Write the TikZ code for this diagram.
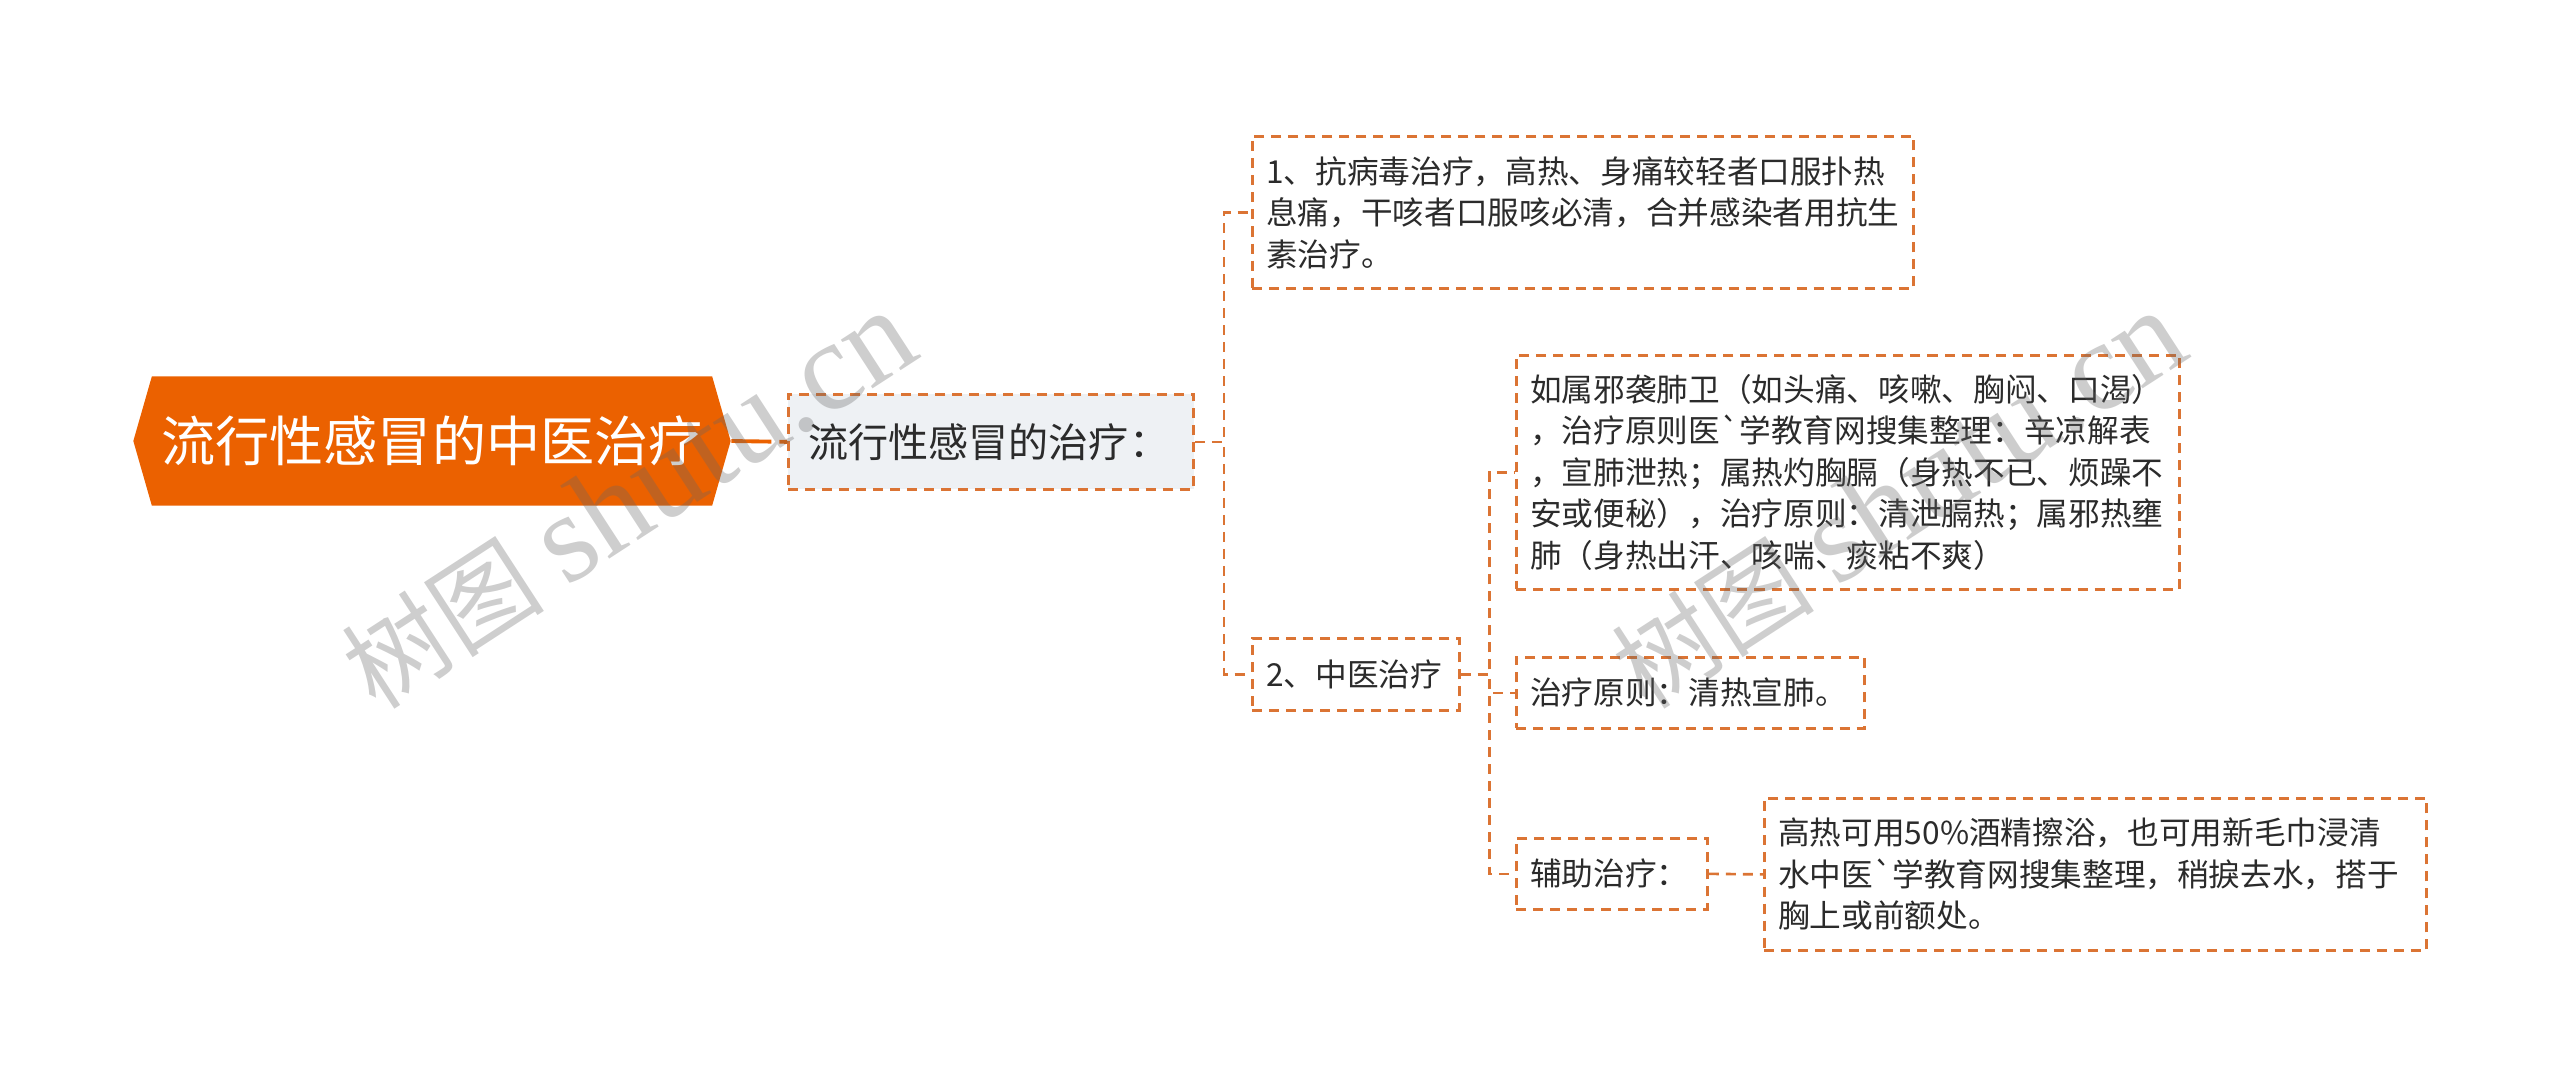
\documentclass[tikz,border=0pt]{standalone}
\usepackage{fontspec}
\setmainfont{Noto Sans CJK SC}
\newfontfamily\wmlatin{Liberation Serif}
\usepackage{xcolor}
\usetikzlibrary{positioning, shapes.symbols, calc}

\definecolor{rootorange}{HTML}{EB6100}
\definecolor{lineorange}{HTML}{DB7434}
\definecolor{boxgrey}{HTML}{EEF1F4}
\definecolor{textgrey}{HTML}{2B2B2B}

\begin{document}
\begin{tikzpicture}[x=0.01cm, y=-0.01cm,
            root/.style={signal, signal to=west and east, signal pointer angle=148, fill=rootorange, text=white, minimum width=5.97cm, minimum height=1.29cm, inner sep=0pt, font=\fontsize{15.4}{18}\selectfont},
            dashline/.style={draw=lineorange, line width=0.75pt, dash pattern=on 0.1cm off 0.07cm},
            topic/.style={dashline, fill=boxgrey, anchor=north west, align=left, inner xsep=0.2cm, text=textgrey, font=\fontsize{11.4}{14}\selectfont},
            leaf/.style={dashline, fill=white, anchor=north west, align=left, inner xsep=0.14cm, text=textgrey, font=\fontsize{9}{11.8}\selectfont},
            edge/.style={dashline},
            rootedge/.style={draw=rootorange, line width=1.1pt, dash pattern=on 0.4cm off 0.08cm},
            watermark/.style={rotate=33, text=black!60, text opacity=0.32, font=\fontsize{29}{29}\selectfont}
        ]

        \useasboundingbox (0,0) rectangle (2560,1084);

        % Knoten
        \node[root] (root) at (432,441) {流行性感冒的中医治疗};
        \node[topic, minimum width=4.05cm, minimum height=0.95cm, text width=3.65cm] (treat) at (787,393) {流行性感冒的治疗：};

        \node[leaf, minimum width=6.61cm, minimum height=1.52cm, text width=6.33cm] (drug) at (1251,135) {1、抗病毒治疗，高热、身痛较轻者口服扑热\\息痛，干咳者口服咳必清，合并感染者用抗生\\素治疗。};
        \node[leaf, minimum width=2.07cm, minimum height=0.72cm, text width=1.79cm] (tcm) at (1251,637) {2、中医治疗};

        \node[leaf, minimum width=6.63cm, minimum height=2.34cm, text width=6.35cm] (syndrome) at (1515,354) {如属邪袭肺卫（如头痛、咳嗽、胸闷、口渴）\\，治疗原则医\textasciigrave 学教育网搜集整理：辛凉解表\\，宣肺泄热；属热灼胸膈（身热不已、烦躁不\\安或便秘），治疗原则：清泄膈热；属邪热壅\\肺（身热出汗、咳喘、痰粘不爽）};
        \node[leaf, minimum width=3.48cm, minimum height=0.71cm, text width=3.2cm] (principle) at (1515,656) {治疗原则：清热宣肺。};
        \node[leaf, minimum width=1.91cm, minimum height=0.71cm, text width=1.63cm] (aux) at (1515,837) {辅助治疗：};
        \node[leaf, minimum width=6.62cm, minimum height=1.52cm, text width=6.34cm] (cool) at (1763,797) {高热可用50\%酒精擦浴，也可用新毛巾浸清\\水中医\textasciigrave 学教育网搜集整理，稍捩去水，搭于\\胸上或前额处。};

        % Kanten
        \draw[rootedge] (root.east) -- (treat.west);
        \draw[edge] (treat.east) -- ++(29,0) |- (drug.west);
        \draw[edge] (treat.east) -- ++(29,0) |- (tcm.west);
        \draw[edge] (tcm.east) -- ++(29,0) |- (syndrome.west);
        \draw[edge] (tcm.east) -- ++(29,0) |- (principle.west);
        \draw[edge] (tcm.east) -- ++(29,0) |- (aux.west);
        \draw[edge] (aux.east) -- (cool.west);

        % Wasserzeichen
        \node[watermark] (wmA) at (628,500) {树图 {\wmlatin\fontsize{36}{36}\selectfont shutu.cn}};
        \node[watermark] (wmB) at (1898,500) {树图 {\wmlatin\fontsize{36}{36}\selectfont shutu.cn}};

    \end{tikzpicture}
\end{document}
